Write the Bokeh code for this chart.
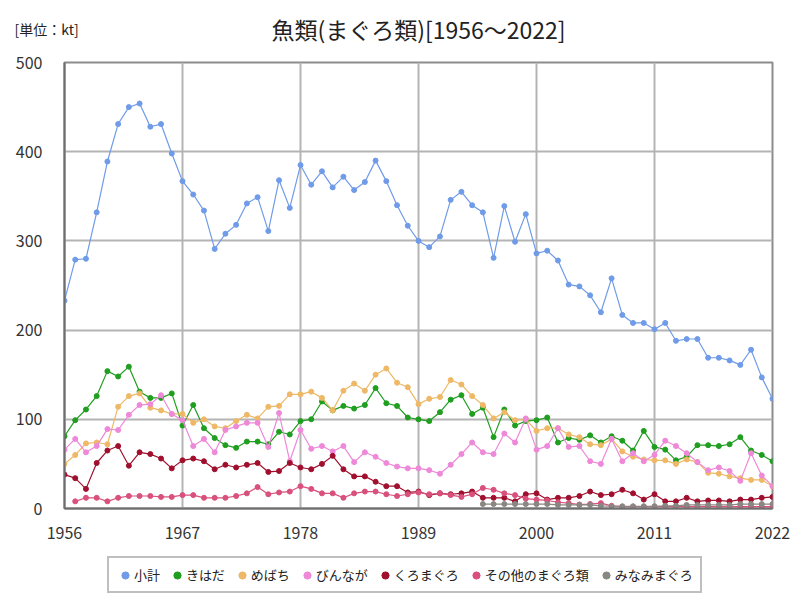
from bokeh.plotting import figure
from bokeh.layouts import column
from bokeh.models import (Legend, LegendItem, Label, FixedTicker, Range1d,
                          ColumnDataSource)
from bokeh.embed import file_html
from bokeh.resources import INLINE

years = list(range(1956, 2023))

subtotal = [233, 279, 280, 332, 389, 431, 450, 454, 428, 431,
            398, 367, 352, 334, 291, 308, 318, 342, 349, 311,
            368, 337, 385, 363, 378, 360, 372, 357, 366, 390,
            367, 340, 317, 300, 293, 305, 346, 355, 340, 332,
            281, 339, 299, 330, 286, 289, 278, 251, 249, 239,
            220, 258, 217, 208, 208, 201, 208, 188, 190, 190,
            169, 169, 166, 161, 178, 147, 123]

kihada = [81, 99, 111, 126, 154, 148, 159, 131, 124, 124,
          129, 93, 116, 90, 79, 71, 68, 75, 75, 72,
          86, 83, 98, 100, 120, 110, 115, 112, 116, 135,
          118, 115, 102, 100, 98, 108, 122, 127, 106, 113,
          80, 111, 93, 98, 99, 102, 74, 79, 77, 82,
          74, 81, 76, 65, 87, 69, 66, 54, 58, 71,
          71, 70, 72, 80, 65, 60, 53]

mebachi = [50, 60, 73, 74, 72, 114, 126, 129, 113, 110,
           106, 106, 96, 100, 92, 90, 98, 105, 101, 114,
           115, 128, 128, 131, 124, 110, 132, 140, 132, 150,
           157, 141, 136, 117, 123, 125, 144, 139, 126, 116,
           101, 108, 99, 100, 87, 90, 90, 83, 80, 72,
           71, 78, 64, 58, 55, 54, 54, 50, 55, 52,
           40, 39, 36, 34, 32, 32, 25]

binnaga = [66, 78, 63, 70, 89, 88, 105, 116, 117, 127,
           106, 99, 70, 78, 63, 88, 92, 96, 96, 69,
           107, 53, 88, 67, 70, 64, 70, 52, 63, 58,
           51, 47, 45, 45, 43, 39, 49, 61, 74, 63,
           61, 84, 74, 101, 66, 70, 90, 69, 70, 53,
           50, 78, 53, 62, 53, 60, 76, 70, 62, 52,
           43, 46, 42, 31, 62, 37, 25]

kuromaguro = [38, 34, 22, 51, 65, 70, 48, 63, 61, 56,
              45, 54, 56, 53, 44, 49, 46, 49, 51, 41,
              42, 51, 46, 44, 50, 59, 44, 36, 36, 30,
              25, 25, 18, 19, 15, 17, 16, 17, 19, 12,
              12, 12, 8, 16, 17, 10, 12, 12, 14, 19,
              15, 16, 21, 17, 10, 16, 8, 8, 12, 8,
              9, 9, 8, 10, 10, 12, 13]

years_other = list(range(1957, 2023))
other = [8, 12, 12, 8, 12, 14, 14, 14, 13, 13,
         15, 15, 12, 12, 12, 14, 17, 24, 16, 18,
         19, 25, 22, 17, 17, 12, 17, 19, 19, 16,
         14, 16, 18, 16, 17, 15, 13, 16, 23, 21,
         17, 15, 11, 10, 9, 7, 6, 4.5, 5, 6,
         3, 2, 2, 2, 2, 2, 2, 2, 2, 2,
         2, 2, 2, 2, 2, 2]

years_minami = list(range(1995, 2023))
minami = [5, 5, 5, 5, 5, 5, 5, 4, 4, 4,
          4, 3, 2.5, 2.5, 2.5, 2.5, 2.5, 3, 3, 4,
          4, 4, 4, 4, 5, 5, 5, 5]

series = [
    ("小計", years, subtotal, "#6f9be8"),
    ("きはだ", years, kihada, "#1f9e1f"),
    ("めばち", years, mebachi, "#eeb866"),
    ("びんなが", years, binnaga, "#ee88d8"),
    ("くろまぐろ", years, kuromaguro, "#a0102e"),
    ("その他のまぐろ類", years_other, other, "#d9507c"),
    ("みなみまぐろ", years_minami, minami, "#8a8782"),
]

xticks = [1956, 1967, 1978, 1989, 2000, 2011, 2022]
yticks = [0, 100, 200, 300, 400, 500]

TITLE = "魚類(まぐろ類)[1956～2022]"
UNIT = "[単位：kt]"

FONT = "Noto Sans CJK JP"

# frame edges of the chart in page pixels
L, R = 62, 772


def blank_figure(height):
    # x range in page pixels across the (aligned) frame
    f = figure(width=800, height=height, output_backend="svg",
               toolbar_location=None, x_range=Range1d(L, R),
               y_range=Range1d(height, 0), x_axis_type=None,
               y_axis_type=None, min_border_left=L, min_border_right=800 - R,
               min_border_top=0, min_border_bottom=0)
    f.outline_line_color = None
    f.xgrid.visible = False
    f.ygrid.visible = False
    f.background_fill_color = "white"
    f.border_fill_color = "white"
    return f


# ---- header (title + unit) ----
top = blank_figure(50)
top.add_layout(Label(x=(L + R) / 2, y=28, text=TITLE, text_font=FONT,
                     text_font_size="23px", text_align="center",
                     text_baseline="middle", text_color="#222222"))
top.add_layout(Label(x=14, y=22, x_units="screen", y_units="screen",
                     text=UNIT, text_font=FONT,
                     text_font_size="14px", text_align="left",
                     text_baseline="middle", text_color="#222222"), "left")

# ---- main chart ----
p = figure(width=800, height=500, output_backend="svg", toolbar_location=None,
           x_range=Range1d(1956, 2022), y_range=Range1d(0, 500),
           min_border_left=L, min_border_right=800 - R, min_border_top=12,
           min_border_bottom=42)

p.outline_line_color = "#8c8c8c"
p.outline_line_width = 2
p.background_fill_color = "white"
p.border_fill_color = "white"

for ax in (p.xaxis[0], p.yaxis[0]):
    ax.axis_line_color = "#6e6e6e"
    ax.axis_line_width = 2
    ax.major_tick_line_color = None
    ax.minor_tick_line_color = None
    ax.major_label_text_font = FONT
    ax.major_label_text_font_size = "16px"
    ax.major_label_text_color = "#333333"

p.xaxis[0].ticker = FixedTicker(ticks=xticks)
p.yaxis[0].ticker = FixedTicker(ticks=yticks)
p.xaxis[0].major_label_standoff = 12
p.yaxis[0].major_label_standoff = 16

p.xgrid.grid_line_color = "#b4b4b4"
p.ygrid.grid_line_color = "#b4b4b4"
p.xgrid.grid_line_width = 2
p.ygrid.grid_line_width = 2
p.xgrid.ticker = FixedTicker(ticks=xticks)
p.ygrid.ticker = FixedTicker(ticks=yticks)

for name, xs, ys, color in series:
    src = ColumnDataSource(dict(x=xs, y=ys))
    p.line("x", "y", source=src, line_color=color, line_width=1.2)
    p.scatter("x", "y", source=src, size=5, fill_color=color, line_color=color)

# ---- legend strip ----
bot = blank_figure(50)
items = []
for name, xs, ys, color in series:
    # legend-only glyph, kept outside the visible range
    r = bot.scatter(x=[-500], y=[-500], size=9, fill_color=color,
                    line_color=color)
    items.append(LegendItem(label=name, renderers=[r]))

legend = Legend(items=items, orientation="horizontal", location=(105 - L, 7))
legend.label_text_font = FONT
legend.label_text_font_size = "13px"
legend.label_text_color = "#222222"
legend.glyph_width = 18
legend.glyph_height = 18
legend.label_standoff = 0
legend.spacing = 8
legend.padding = 7
legend.margin = 0
legend.border_line_color = "#808080"
legend.border_line_width = 2
legend.background_fill_alpha = 1
bot.add_layout(legend)

layout = column(top, p, bot, spacing=0)

open("out.html", "w").write(file_html(layout, INLINE))
